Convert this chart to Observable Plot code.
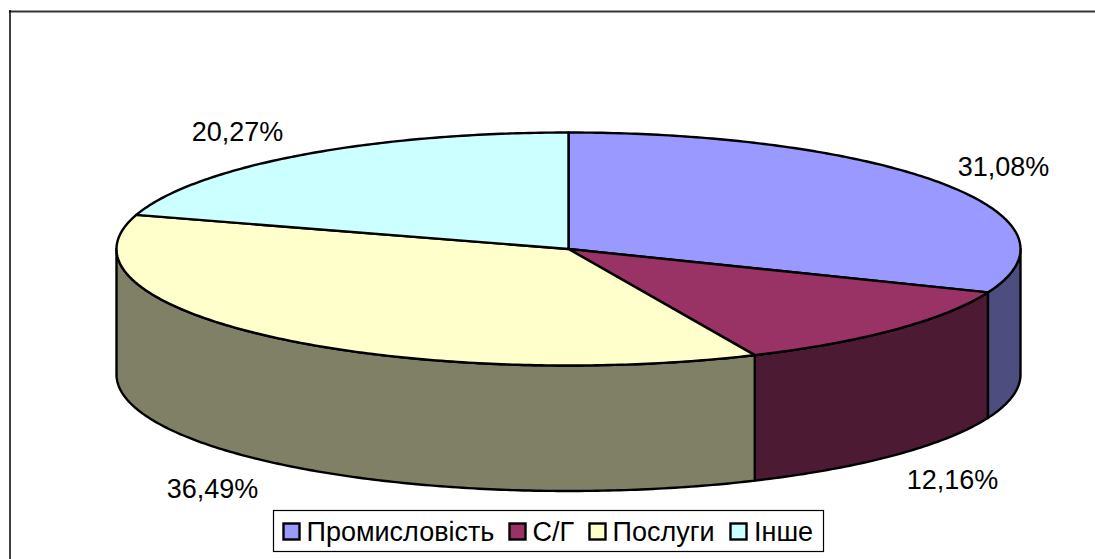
<!DOCTYPE html>
<html><head><meta charset="utf-8">
<script src="https://cdn.jsdelivr.net/npm/d3@7"></script>
<script src="https://cdn.jsdelivr.net/npm/@observablehq/plot@0.6"></script>
<style>html,body{margin:0;padding:0;background:#fff}svg{display:block}</style>
</head><body><div id="c"></div>
<script>
const categories = ["Промисловість","С/Г","Послуги","Інше"];
const shares = [31.08,12.16,36.49,20.27];
const shareLabels = ["31,08%","12,16%","36,49%","20,27%"];
const topColors = ["#9999ff","#993366","#ffffcc","#ccffff"];
const sideColors = ["#4d4d80","#4d1a33","#808066","#668080"];
// chart-space geometry of the tilted disc
const W = 1095, H = 559, CX = 568, CY = 248.5, RX = 452, RY = 116.5, DEPTH = 125.5;
const labelAnchor = [[1003,167],[952,480],[212,489],[237,132]];

const total = d3.sum(shares);
let cum = 0;
const slices = shares.map((v,i)=>{const a0=cum/total*2*Math.PI;cum+=v;return {i,a0,a1:cum/total*2*Math.PI};});
const ex = a => CX + RX*Math.sin(a), ey = a => CY - RY*Math.cos(a);
const arc = (a0,a1) => { const n=Math.max(2,Math.ceil((a1-a0)*80)); return d3.range(n+1).map(k=>a0+(a1-a0)*k/n); };

const topPolys = slices.flatMap(s=>[{x:CX,y:CY,s:s.i},...arc(s.a0,s.a1).map(a=>({x:ex(a),y:ey(a),s:s.i})),{x:CX,y:CY,s:s.i}]);
const sidePolys = slices.flatMap(s=>{
  const lo=Math.max(s.a0,Math.PI/2), hi=Math.min(s.a1,3*Math.PI/2);
  if(hi<=lo) return [];
  const as=arc(lo,hi);
  return [...as.map(a=>({x:ex(a),y:ey(a),s:s.i})),...as.slice().reverse().map(a=>({x:ex(a),y:ey(a)+DEPTH,s:s.i})),{x:ex(lo),y:ey(lo),s:s.i}];
});
const colorTop = d=>topColors[d.s], colorSide = d=>sideColors[d.s];
const labels = shareLabels.map((t,i)=>({t,x:labelAnchor[i][0],y:labelAnchor[i][1]}));

// legend entries
const legendX=[283.5,509.5,589.5,730.5], legendTextX=[306,532,612,753.5], LY=531.5;
const legendSw = categories.map((c,i)=>({c,i,x1:legendX[i],x2:legendX[i]+16,y1:LY-8,y2:LY+8}));

const font='"Liberation Sans",Arial,sans-serif';
const chart = Plot.plot({
  width:W,height:H,margin:0,
  x:{domain:[0,W],range:[0,W],axis:null},
  y:{domain:[0,H],range:[0,H],axis:null},
  style:{fontFamily:font,background:"#fff"},
  marks:[
    Plot.ruleY([11],{x1:9,x2:W,stroke:"#333",strokeWidth:2}),
    Plot.ruleX([9.5],{y1:10,y2:H,stroke:"#000",strokeWidth:1.5}),
    Plot.line(sidePolys,{x:"x",y:"y",z:"s",fill:colorSide,stroke:"#000",strokeWidth:2.4,strokeLinejoin:"round"}),
    Plot.line(topPolys,{x:"x",y:"y",z:"s",fill:colorTop,stroke:"#000",strokeWidth:2.4,strokeLinejoin:"round"}),
    Plot.text(labels,{x:"x",y:"y",text:"t",fontSize:27,fill:"#000"}),
    Plot.rect([{x1:273.5,y1:510.5,x2:823.5,y2:551.5}],{x1:"x1",x2:"x2",y1:"y1",y2:"y2",fill:"#fff",stroke:"#000",strokeWidth:1.2}),
    Plot.rect(legendSw,{x1:"x1",x2:"x2",y1:"y1",y2:"y2",fill:d=>topColors[d.i],stroke:"#000",strokeWidth:2.4}),
    Plot.text(legendSw,{x:(d)=>legendTextX[d.i],y:LY,text:"c",textAnchor:"start",fontSize:27,fill:"#000"})
  ]
});
document.getElementById("c").append(chart);
</script></body></html>
